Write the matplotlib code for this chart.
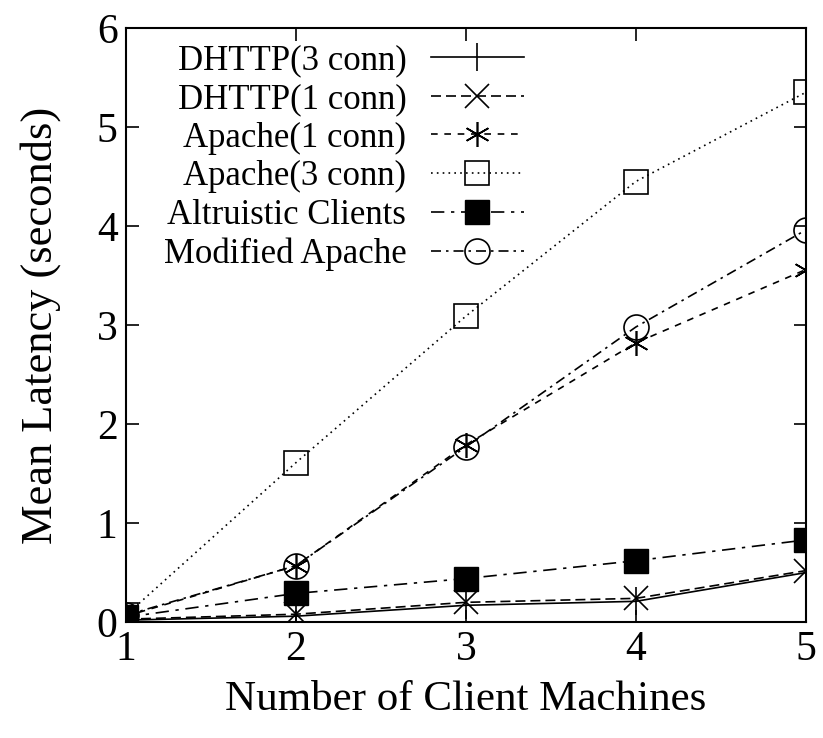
import matplotlib.pyplot as plt

plt.rcParams['font.family'] = ['Liberation Serif', 'DejaVu Serif']

clients = [1, 2, 3, 4, 5]

dhttp_3conn = [0.02, 0.06, 0.17, 0.21, 0.50]
dhttp_1conn = [0.03, 0.08, 0.20, 0.24, 0.52]
apache_1conn = [0.06, 0.57, 1.79, 2.82, 3.56]
apache_3conn = [0.07, 1.61, 3.09, 4.45, 5.35]
altruistic = [0.05, 0.29, 0.44, 0.62, 0.83]
modified_apache = [0.07, 0.57, 1.77, 2.98, 3.96]

fig = plt.figure(figsize=(8.23, 7.38), dpi=100)
ax = fig.add_axes([0.153, 0.157, 0.826, 0.805])

ax.plot(clients, dhttp_3conn, color='black', lw=1.2, linestyle='-',
        marker='|', markersize=20, markeredgewidth=1.2, label='DHTTP(3 conn)')
ax.plot(clients, dhttp_1conn, color='black', lw=1.2, linestyle=(0, (6, 3)),
        marker='x', markersize=17, markeredgewidth=1.2, label='DHTTP(1 conn)')
ax.plot(clients, apache_1conn, color='black', lw=1.2, linestyle=(0, (4, 4)),
        marker=(6, 2, 0), markersize=18, markeredgewidth=1.2, label='Apache(1 conn)')
ax.plot(clients, apache_3conn, color='black', lw=1.2, linestyle=(0, (1, 2.5)),
        marker='s', markersize=17, markerfacecolor='none', markeredgewidth=1.2,
        label='Apache(3 conn)')
ax.plot(clients, altruistic, color='black', lw=1.2, linestyle=(0, (8, 4, 2, 4)),
        marker='s', markersize=17, markerfacecolor='black', label='Altruistic Clients')
ax.plot(clients, modified_apache, color='black', lw=1.2, linestyle=(0, (6, 3, 1.5, 3)),
        marker='o', markersize=18, markerfacecolor='none', markeredgewidth=1.2,
        label='Modified Apache')

ax.set_xlim(1, 5)
ax.set_ylim(0, 6)
ax.set_xticks(clients)
ax.set_yticks(range(0, 7))
ax.tick_params(direction='in', length=9, width=1.2, labelsize=30,
               top=True, right=True, pad=6)
for s in ax.spines.values():
    s.set_linewidth(1.5)

ax.set_xlabel('Number of Client Machines', fontsize=31, labelpad=8)
ax.set_ylabel('Mean Latency (seconds)', fontsize=32, labelpad=26)

leg = ax.legend(loc='upper left', bbox_to_anchor=(0.04, 0.99), frameon=False,
                markerfirst=False, fontsize=25, handlelength=2.7,
                labelspacing=0.16, handletextpad=0.7, borderaxespad=0.1,
                borderpad=0.2)
for t in leg.get_texts():
    t.set_ha('right')
leg._legend_box.align = 'right'

fig.savefig('out.png', dpi=100)
